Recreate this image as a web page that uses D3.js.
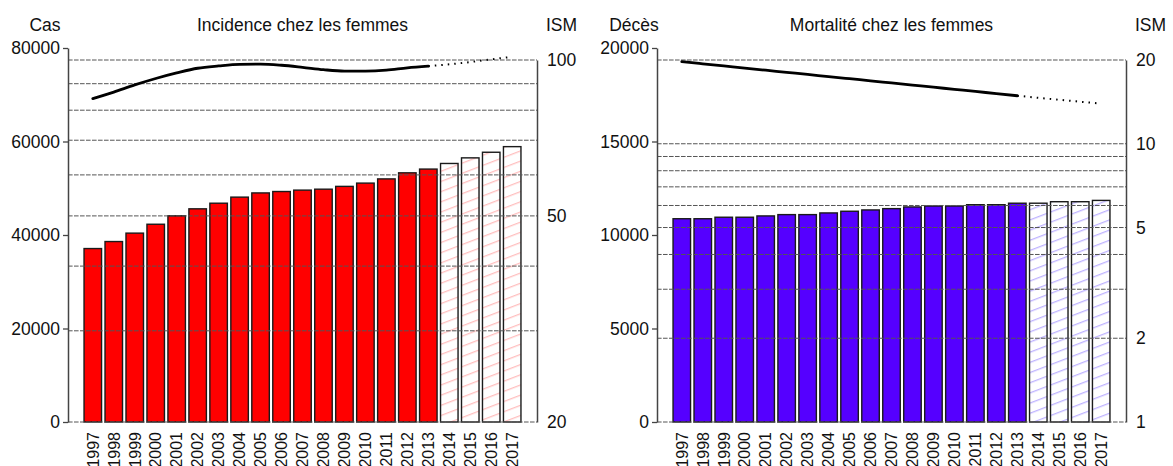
<!DOCTYPE html>
<html>
<head>
<meta charset="utf-8">
<script src="https://cdn.jsdelivr.net/npm/d3@7"></script>
<style>
  body { margin: 0; background: #fff; }
  svg { display: block; font-family: "Liberation Sans", Arial, sans-serif; }
</style>
</head>
<body>
<div id="chart"></div>
<script>
var W = 1173, H = 466;

var years = ["1997","1998","1999","2000","2001","2002","2003","2004","2005","2006","2007",
             "2008","2009","2010","2011","2012","2013","2014","2015","2016","2017"];
var lastObserved = "2013";

// incidence
var casValues = [37100, 38600, 40400, 42300, 44100, 45600, 46800, 48100, 49000, 49300, 49600,
                 49800, 50400, 51100, 52000, 53300, 54100, 55300, 56500, 57700, 58900];
var ismIncidence = [84.2, 86.7, 89.5, 92.1, 94.4, 96.4, 97.4, 98.1, 98.2, 97.7, 96.8,
                    95.8, 95.2, 95.2, 95.6, 96.6, 97.3, 98.1, 99.1, 100.3, 101.4];
var casTicks = [0, 20000, 40000, 60000, 80000];
var ismIncidenceTicks = [20, 50, 100];
var ismIncidenceGrid = [20, 30, 40, 50, 60, 70, 80, 90, 100];

// mortalite
var decesValues = [10870, 10870, 10950, 10950, 11020, 11090, 11090, 11180, 11270, 11340, 11410,
                   11500, 11550, 11550, 11620, 11620, 11700, 11700, 11780, 11780, 11850];
var ismMortalite = [19.72, 19.38, 19.04, 18.70, 18.38, 18.06, 17.75, 17.43, 17.13, 16.84, 16.54,
                    16.25, 15.97, 15.69, 15.42, 15.14, 14.88, 14.63, 14.39, 14.16, 13.94];
var decesTicks = [0, 5000, 10000, 15000, 20000];
var ismMortaliteTicks = [1, 2, 5, 10, 20];
var ismMortaliteGrid = [1, 2, 3, 4, 5, 6, 7, 8, 9, 10, 20];

var svg = d3.select("#chart").append("svg")
            .attr("width", W)
            .attr("height", H);

var defs = svg.append("defs");

function hatch(id, color) {
	var p = defs.append("pattern")
	            .attr("id", id)
	            .attr("patternUnits", "userSpaceOnUse")
	            .attr("width", 40)
	            .attr("height", 9.5)
	            .attr("patternTransform", "rotate(-21)");
	p.append("rect").attr("width", 40).attr("height", 9.5).attr("fill", "#fff");
	p.append("line")
	 .attr("x1", 0).attr("x2", 40).attr("y1", 4.5).attr("y2", 4.5)
	 .attr("stroke", color).attr("stroke-width", 1.1);
}
hatch("hatch-red", "#ffa8a8");
hatch("hatch-blue", "#a898ff");

var fontSize = "17.5px";
var textColor = "#111";

function drawPanel(cfg) {
	var g = svg.append("g");
	var yBottom = 422, yTop = 48, ismTop = 60;

	var xScale = d3.scaleBand()
	               .domain(years)
	               .range([cfg.x0, cfg.x1])
	               .paddingInner(0.165)
	               .paddingOuter(0.765);

	var yScale = d3.scaleLinear()
	               .domain([0, cfg.yMax])
	               .range([yBottom, yTop]);

	var ismScale = d3.scaleLog()
	                 .domain(cfg.ismDomain)
	                 .range([yBottom, ismTop]);

	var data = years.map(function(y, i) {
		return {year: y, value: cfg.values[i], ism: cfg.ism[i], proj: +y > +lastObserved};
	});

	// bars
	g.selectAll("rect.bar")
	 .data(data)
	 .enter()
	 .append("rect")
	 .attr("class", "bar")
	 .attr("x", d => xScale(d.year))
	 .attr("y", d => yScale(d.value))
	 .attr("width", xScale.bandwidth())
	 .attr("height", d => yBottom - yScale(d.value))
	 .attr("fill", d => d.proj ? "url(#" + cfg.hatch + ")" : cfg.color)
	 .attr("stroke", "#1a1a1a")
	 .attr("stroke-width", 1.4);

	// dotted grid (ISM log scale), drawn over the bars
	g.selectAll("line.grid")
	 .data(cfg.grid)
	 .enter()
	 .append("line")
	 .attr("class", "grid")
	 .attr("x1", cfg.x0)
	 .attr("x2", cfg.x1)
	 .attr("y1", d => ismScale(d))
	 .attr("y2", d => ismScale(d))
	 .attr("stroke", "#555")
	 .attr("stroke-width", 1)
	 .attr("stroke-dasharray", "4.6,1.4");

	// ISM line
	var line = d3.line()
	             .x(d => xScale(d.year) + xScale.bandwidth() / 2)
	             .y(d => ismScale(d.ism))
	             .curve(d3.curveMonotoneX);

	var observed = data.filter(d => !d.proj);
	var projected = data.filter(d => d.proj || d.year === lastObserved);

	g.append("path")
	 .attr("d", line(observed))
	 .attr("fill", "none")
	 .attr("stroke", "#000")
	 .attr("stroke-width", 2.8)
	 .attr("stroke-linecap", "round");

	g.append("path")
	 .attr("d", line(projected))
	 .attr("fill", "none")
	 .attr("stroke", "#000")
	 .attr("stroke-width", 2)
	 .attr("stroke-dasharray", "1.5,5");

	// left axis
	var yAxis = d3.axisLeft(yScale)
	              .tickValues(cfg.ticks)
	              .tickSize(5)
	              .tickSizeOuter(0)
	              .tickPadding(3)
	              .tickFormat(d3.format("d"));
	var ya = g.append("g")
	          .attr("transform", "translate(" + cfg.x0 + ",0)")
	          .call(yAxis);

	// right axis
	var ismAxis = d3.axisRight(ismScale)
	                .tickValues(cfg.ismTicks)
	                .tickSize(0)
	                .tickSizeOuter(0)
	                .tickPadding(10)
	                .tickFormat(d3.format("d"));
	var ia = g.append("g")
	          .attr("transform", "translate(" + cfg.x1 + ",0)")
	          .call(ismAxis);

	// years
	var xAxis = d3.axisBottom(xScale).tickSize(0).tickPadding(0);
	var xa = g.append("g")
	          .attr("transform", "translate(0," + yBottom + ")")
	          .call(xAxis);
	xa.select(".domain").remove();

	[ya, ia, xa].forEach(function(a) {
		a.selectAll("text")
		 .style("font-size", fontSize)
		 .style("font-family", "Liberation Sans, Arial, sans-serif")
		 .attr("fill", textColor);
		a.select(".domain").attr("stroke", "#444").attr("stroke-width", 1.5);
		a.selectAll(".tick line").attr("stroke", "#444").attr("stroke-width", 1.3);
	});

	xa.selectAll("text")
	  .attr("transform", "rotate(-90)")
	  .attr("x", -10)
	  .attr("y", 0)
	  .attr("dy", "0.36em")
	  .style("text-anchor", "end")
	  .style("font-size", "16px");

	// labels
	g.append("text")
	 .attr("x", cfg.x0 - 23)
	 .attr("y", 31)
	 .attr("text-anchor", "middle")
	 .style("font-size", fontSize)
	 .attr("fill", textColor)
	 .text(cfg.leftLabel);

	g.append("text")
	 .attr("x", (cfg.x0 + cfg.x1) / 2)
	 .attr("y", 31)
	 .attr("text-anchor", "middle")
	 .style("font-size", fontSize)
	 .attr("fill", textColor)
	 .text(cfg.title);

	g.append("text")
	 .attr("x", cfg.x1 + 9)
	 .attr("y", 31)
	 .style("font-size", fontSize)
	 .attr("fill", textColor)
	 .text("ISM");
}

drawPanel({
	x0: 68, x1: 537, yMax: 80000,
	values: casValues, ism: ismIncidence,
	ticks: casTicks, ismDomain: [20, 100], ismTicks: ismIncidenceTicks, grid: ismIncidenceGrid,
	color: "#ff0000", hatch: "hatch-red",
	leftLabel: "Cas", title: "Incidence chez les femmes"
});

drawPanel({
	x0: 657, x1: 1126, yMax: 20000,
	values: decesValues, ism: ismMortalite,
	ticks: decesTicks, ismDomain: [1, 20], ismTicks: ismMortaliteTicks, grid: ismMortaliteGrid,
	color: "#5500ff", hatch: "hatch-blue",
	leftLabel: "Décès", title: "Mortalité chez les femmes"
});
</script>
</body>
</html>
